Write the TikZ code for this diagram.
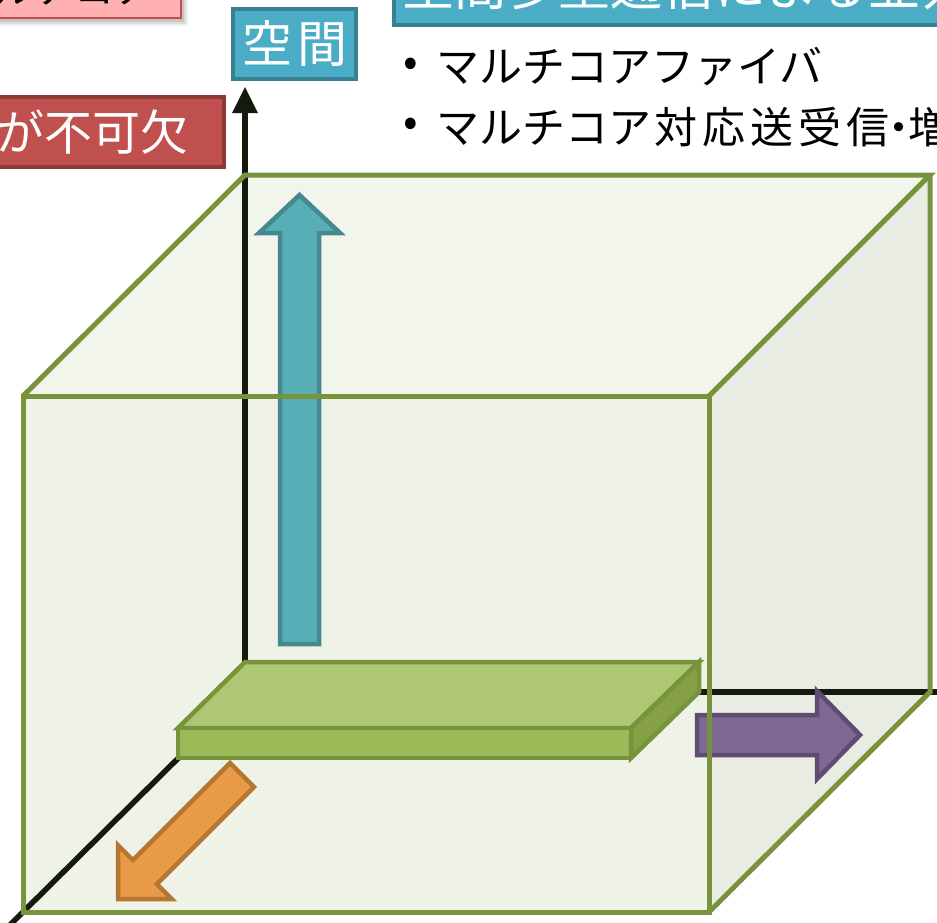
\documentclass[tikz,border=0pt]{standalone}
\usepackage{fontspec}
\setmainfont{Noto Sans CJK JP}
\definecolor{cubeline}{HTML}{77933C}
\definecolor{frontface}{HTML}{EFF3E7}
\definecolor{topface}{HTML}{F2F5EB}
\definecolor{rightface}{HTML}{E9ECE3}
\definecolor{axisblack}{HTML}{151A0E}
\definecolor{platTop}{HTML}{ADC775}
\definecolor{platFront}{HTML}{9BBB59}
\definecolor{platSide}{HTML}{86A046}
\definecolor{blueFill}{HTML}{58AEB6}
\definecolor{blueLine}{HTML}{46888F}
\definecolor{purpleFill}{HTML}{7E6994}
\definecolor{purpleLine}{HTML}{5F4C72}
\definecolor{orangeFill}{HTML}{E89A47}
\definecolor{orangeLine}{HTML}{B5772F}
\definecolor{boxBlue}{HTML}{4BACC6}
\definecolor{boxBlueLine}{HTML}{3A7F8F}
\definecolor{boxRed}{HTML}{C0504D}
\definecolor{boxRedLine}{HTML}{8C3A38}
\definecolor{boxPink}{HTML}{FFB1B1}
\tikzset{
  cubeedge/.style={draw=cubeline, line width=5pt, line join=miter},
  axisline/.style={draw=axisblack, line width=5.5pt},
  platedge/.style={draw=cubeline, line width=4.5pt, line join=miter},
  blockarrow/.style={line width=4.5pt, line join=miter},
  labelbox/.style={line width=4pt, inner sep=0pt},
  bigtext/.style={inner sep=0pt, text=white},
  bullettext/.style={inner sep=0pt, text=black, font=\fontsize{43}{50}\selectfont},
}
\begin{document}
\begin{tikzpicture}[x=1pt,y=-1pt]
\useasboundingbox (0,0) rectangle (937,922);
\clip (0,0) rectangle (937,922);
% cube corners
\coordinate (F1) at (23,396);
\coordinate (F2) at (709,396);
\coordinate (F3) at (709,912);
\coordinate (F4) at (23,912);
\coordinate (B1) at (245,175);
\coordinate (B2) at (930,175);
\coordinate (B3) at (930,692);
\coordinate (O) at (245,692);
% face fills
\fill[frontface] (F1) -- (F2) -- (F3) -- (F4) -- cycle;
\fill[topface] (F1) -- (B1) -- (B2) -- (F2) -- cycle;
\fill[rightface] (F2) -- (B2) -- (B3) -- (F3) -- cycle;
% axes
\coordinate (Ytop) at (245,113);
\coordinate (Ytip) at (245,87);
\coordinate (Xend) at (950,692);
\coordinate (Zend) at (-20,954.6);
\draw[axisline] (O) -- (Ytop);
\fill[axisblack] (232,113) -- (Ytip) -- (258,113) -- cycle;
\draw[axisline] (O) -- (Xend);
\draw[axisline] (O) -- (Zend);
% platform
\coordinate (P1) at (245,662);
\coordinate (P2) at (699,662);
\coordinate (P3) at (631,728);
\coordinate (P4) at (178,728);
\coordinate (P5) at (178,758);
\coordinate (P6) at (631,758);
\coordinate (P7) at (699,692);
\filldraw[platedge, fill=platTop] (P1) -- (P2) -- (P3) -- (P4) -- cycle;
\filldraw[platedge, fill=platFront] (P4) -- (P3) -- (P6) -- (P5) -- cycle;
\filldraw[platedge, fill=platSide] (P3) -- (P2) -- (P7) -- (P6) -- cycle;
% blue arrow (up)
\filldraw[blockarrow, fill=blueFill, draw=blueLine]
  (280,644) -- (280,233) -- (259,233) -- (299.5,195) -- (340,233) -- (319,233) -- (319,644) -- cycle;
% purple arrow (right)
\filldraw[blockarrow, fill=purpleFill, draw=purpleLine]
  (697,715) -- (817,715) -- (817,691) -- (860,735) -- (817,779) -- (817,755) -- (697,755) -- cycle;
% orange arrow (down-left)
\filldraw[blockarrow, fill=orangeFill, draw=orangeLine]
  (230,763) -- (132.9,860.1) -- (118,845.2) -- (118,899) -- (171.8,899) -- (156.9,884.1) -- (254,787) -- cycle;
% cube edges
\draw[cubeedge] (F1) -- (F2) -- (F3) -- (F4) -- cycle;
\draw[cubeedge] (F1) -- (B1) -- (B2) -- (F2);
\draw[cubeedge] (B2) -- (B3) -- (F3);
% pink box with shadow
\fill[black, opacity=0.06] (-10,-40) rectangle (188,26);
\fill[black, opacity=0.08] (-10,-40) rectangle (186,24);
\fill[black, opacity=0.10] (-10,-40) rectangle (184,22);
\filldraw[fill=boxPink, draw=boxRed, line width=2pt] (-10,-40) rectangle (181,18);
\node[inner sep=0pt, anchor=east, text=black, font=\fontsize{40}{48}\selectfont] (pinktext) at (155,-11) {マルチコア};
% red box
\node[labelbox, draw=boxRedLine, fill=boxRed, minimum width=236pt, minimum height=70pt] (redbox) at (106,132) {};
\node[bigtext, anchor=east, font=\fontsize{48}{56}\selectfont] (redtext) at (189,132) {が不可欠};
% space box
\node[labelbox, draw=boxBlueLine, fill=boxBlue, minimum width=123pt, minimum height=70pt, text=white, font=\fontsize{50}{60}\selectfont] (space) at (294.5,44) {空\kern5pt 間};
% title box
\node[labelbox, draw=boxBlueLine, fill=boxBlue, minimum width=570pt, minimum height=70pt] (titlebox) at (679,-10) {};
\node[bigtext, anchor=west, font=\fontsize{52}{60}\selectfont] (titletext) at (402,-14) {空間多重通信による並列化};
% bullets
\node[bullettext] (b1) at (411,67) {•};
\node[bullettext, anchor=west] (t1) at (436,67) {マルチコアファイバ};
\node[bullettext] (b2) at (411,127) {•};
\node[bullettext, anchor=west] (t2) at (436,127) {マルチコア\kern3pt 対\kern5pt 応\kern5pt 送\kern5pt 受\kern5pt 信\kern-12pt・\kern-12pt 増幅器};
\end{tikzpicture}
\end{document}
